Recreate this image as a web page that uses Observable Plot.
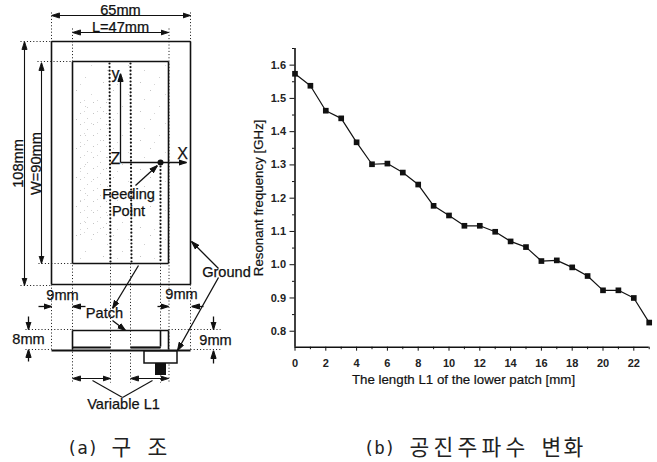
<!DOCTYPE html>
<html><head><meta charset="utf-8">
<script src="https://cdn.jsdelivr.net/npm/d3@7"></script>
<script src="https://cdn.jsdelivr.net/npm/@observablehq/plot@0.6"></script>
<style>
html,body{margin:0;padding:0;background:#fff}
#wrap{position:relative;width:657px;height:462px;overflow:hidden}
#wrap svg{position:absolute;left:0;top:0;background:transparent;overflow:visible}
</style></head><body><div id="wrap"></div>
<script>
// ---- chart data ----
const lengthL1 = d3.range(0, 24);
const frequency = [1.574,1.538,1.463,1.44,1.368,1.302,1.304,1.277,1.241,1.177,1.148,1.117,1.117,1.099,1.07,1.053,1.011,1.013,0.992,0.966,0.923,0.923,0.90,0.826];
const xMajor = d3.range(0, 24, 2);
const xMinor = d3.range(1, 24, 2);
const yMajor = [0.8,0.9,1.0,1.1,1.2,1.3,1.4,1.5,1.6];
const yMinor = [0.85,0.95,1.05,1.15,1.25,1.35,1.45,1.55,1.65];
const xLabel = "The length L1 of the lower patch [mm]";
const yLabel = "Resonant frequency [GHz]";

// ---- schematic (in its own drawing units) ----
const solid = [[51,41,190,41],[51,41,51,284],[190,41,190,284],[51,284,190,284],
  [72,61,168,61],[72,61,72,263],[168,61,168,263],[72,263,168,263],
  [72,330,168,330],[72,330,72,349],[168,330,168,349],[160,330,160,346]];
const thick = [[51,350,190,350],[72,347,110,347],[130,347,160,347]];
const dotted = [[51,12,51,350],[72,28,72,382],[110,263,110,382],[130,263,130,382],[160,263,160,382],[168.5,28,168.5,382],[190,12,190,350],
  [20,41,51,41],[37,61,72,61],[38,263,72,263],[20,285,51,285],[25,329,72,329],[25,349,51,349],[168,329,220,329],[190,349,220,349]];
const dottedHeavy = [[109,63,110,263],[130,63,131,263],[160,166,160,263]];
const arrows2 = [[51,15,190,15],[72,32,168,32],[24,41,24,285],[41,62,41,263],[72,378,110,378],[130,378,168,378]];
const arrows1 = [[120,162,120,73],[120,162,186,162],[135,185,157,165],[218,268,191,241],[218,277,177,350],[138,265,112,308],
  [112,320,125,330],[38,306,51,306],[85,306,72,306],[157,306,168,306],[203,306,191,306],
  [28,316,28,329],[28,361,28,349],[213,316,213,329],[213,363,213,350]];
const plainLines = [[122,397,92,380],[122,397,152,380]];
const boxes = [[144,351,177,363]];
const blackBoxes = [[155,363,166,375]];
const feedPoint = [[160,162]];
const labels = [["65mm",120,10],["L=47mm",120,27],["Feeding",128,194],["Point",128,211],
  ["Ground",226,272],["Patch",104,313],["9mm",62,295],["9mm",181,294],["8mm",28,339],["9mm",215,340],["Variable L1",123,404]];
const axisLetters = [["y",115,73],["X",182,153],["Z",115,158]];
const rotated = [["108mm",18,163],["W=90mm",36,163]];
const captionsLatin = [["(a)",82,448],["(b)",379,448]];
const captionsHangul = [["구",121,448],["조",157,448],["공",419,448],["진",443,448],["주",467,448],["파",491,448],["수",515,448],["변",551,448],["화",573,448]];

const seg = a => a.map(([x1,y1,x2,y2]) => ({x1,y1,x2,y2}));
const txt = a => a.map(([t,x,y]) => ({t,x,y}));
const link = (a,o) => Plot.link(seg(a),{x1:"x1",y1:"y1",x2:"x2",y2:"y2",stroke:"#111",...o});
const FF = "'Liberation Sans',Arial,sans-serif";
const SVGNS = "http://www.w3.org/2000/svg";
function solidHead(color){
  const m = document.createElementNS(SVGNS,"marker");
  m.setAttribute("viewBox","-5 -5 10 10");
  m.setAttribute("markerUnits","userSpaceOnUse");
  m.setAttribute("markerWidth","8");
  m.setAttribute("markerHeight","8");
  m.setAttribute("refX","5");
  m.setAttribute("refY","0");
  m.setAttribute("orient","auto-start-reverse");
  const p = document.createElementNS(SVGNS,"path");
  p.setAttribute("d","M-5,-3.2L5,0L-5,3.2Z");
  p.setAttribute("fill",color);
  m.append(p);
  return m;
}

const diagram = Plot.plot({
  width:657,height:462,margin:0,
  style:{background:"transparent"},
  x:{domain:[0,657],axis:null},
  y:{domain:[0,462],range:[0,462],axis:null},
  marks:[
    Plot.rect([{a:72,b:168,c:61,d:263}],{x1:"a",x2:"b",y1:"c",y2:"d",fill:"url(#stipple)"}),
    Plot.rect([{a:76,b:108,c:100,d:235}],{x1:"a",x2:"b",y1:"c",y2:"d",fill:"url(#stipple2)"}),
    link(dotted,{strokeWidth:1,strokeDasharray:"1,2.2"}),
    link(dottedHeavy,{strokeWidth:2.2,strokeDasharray:"0,3.6",strokeLinecap:"round"}),
    link(solid,{strokeWidth:1.6}),
    link(thick,{strokeWidth:2.2}),
    link(arrows2,{strokeWidth:1.1,markerStart:solidHead,markerEnd:solidHead}),
    link(arrows1,{strokeWidth:1.3,markerEnd:solidHead}),
    link(plainLines,{strokeWidth:1.1}),
    Plot.rect(boxes.map(([a,c,b,d])=>({a,b,c,d})),{x1:"a",x2:"b",y1:"c",y2:"d",stroke:"#111",strokeWidth:1.5,fill:"#fff"}),
    Plot.rect(blackBoxes.map(([a,c,b,d])=>({a,b,c,d})),{x1:"a",x2:"b",y1:"c",y2:"d",fill:"#111"}),
    Plot.dot(feedPoint,{x:d=>d[0],y:d=>d[1],r:3,fill:"#111"}),
    Plot.text(txt(labels),{x:"x",y:"y",text:"t",fontSize:14.6,fontFamily:FF,fill:"#111",stroke:"#111",strokeWidth:0.25}),
    Plot.text(txt(axisLetters),{x:"x",y:"y",text:"t",fontSize:16,fontFamily:FF,fill:"#111",stroke:"#111",strokeWidth:0.25}),
    Plot.text(txt(rotated),{x:"x",y:"y",text:"t",fontSize:14.6,rotate:-90,fontFamily:FF,fill:"#111",stroke:"#111",strokeWidth:0.25}),
    Plot.text(txt(captionsLatin),{x:"x",y:"y",text:"t",fontSize:17.5,fontFamily:"'DejaVu Sans Mono',monospace",fill:"#222"}),
    Plot.text(txt(captionsHangul),{x:"x",y:"y",text:"t",fontSize:21.5,fontFamily:"'Noto Sans CJK KR',sans-serif",fill:"#222"})
  ]
});
diagram.insertAdjacentHTML("afterbegin",
  `<defs><pattern id="stipple" patternUnits="userSpaceOnUse" width="37" height="29">
    <rect x="2" y="3" width="1" height="1" fill="#c4c4c4"/><rect x="11" y="19" width="1" height="1" fill="#cfcfcf"/>
    <rect x="17" y="7" width="1" height="1" fill="#d6d6d6"/><rect x="29" y="24" width="1" height="1" fill="#c4c4c4"/>
    <rect x="6" y="26" width="1" height="1" fill="#d6d6d6"/><rect x="33" y="12" width="1" height="1" fill="#cfcfcf"/>
  </pattern>
  <pattern id="stipple2" patternUnits="userSpaceOnUse" width="13" height="11">
    <rect x="2" y="3" width="1" height="1" fill="#c4c4c4"/><rect x="9" y="8" width="1" height="1" fill="#cfcfcf"/>
    <rect x="6" y="1" width="1" height="1" fill="#d6d6d6"/>
  </pattern></defs>`);

const rows = lengthL1.map((x,i)=>({x,y:frequency[i]}));
const tickFont = {fontSize:11,fontFamily:FF,fontWeight:"bold",fill:"#222"};
const titleFont = {fontSize:13.3,fontFamily:FF,fill:"#111",stroke:"#111",strokeWidth:0.2,textAnchor:"middle",lineAnchor:"middle"};
const chart = Plot.plot({
  width:657,height:462,
  marginLeft:294.5,marginRight:8.3,marginTop:48,marginBottom:115.3,
  style:{background:"transparent",color:"#111"},
  x:{domain:[0,23]},
  y:{domain:[0.752,1.65]},
  marks:[
    Plot.axisX({ticks:xMajor,tickSize:4,tickPadding:8,label:null,...tickFont}),
    Plot.axisX({ticks:xMinor,tickSize:2.5,tickFormat:()=>"",label:null}),
    Plot.axisY({ticks:yMajor,tickSize:5,tickPadding:4,tickFormat:d3.format(".1f"),label:null,...tickFont}),
    Plot.axisY({ticks:yMinor,tickSize:2.5,tickFormat:()=>"",label:null}),
    Plot.text([xLabel],{frameAnchor:"bottom",dy:32.5,dx:-8.6,...titleFont}),
    Plot.text([yLabel],{frameAnchor:"left",dx:-36.5,rotate:-90,...titleFont}),
    Plot.ruleX([0],{stroke:"#111",strokeWidth:1.6}),
    Plot.ruleY([0.752],{stroke:"#111",strokeWidth:1.6}),
    Plot.line(rows,{x:"x",y:"y",stroke:"#111",strokeWidth:1.2}),
    Plot.dot(rows,{x:"x",y:"y",symbol:"square",r:3.2,fill:"#111"})
  ]
});
const w=document.getElementById("wrap");
w.append(diagram,chart);
</script></body></html>
